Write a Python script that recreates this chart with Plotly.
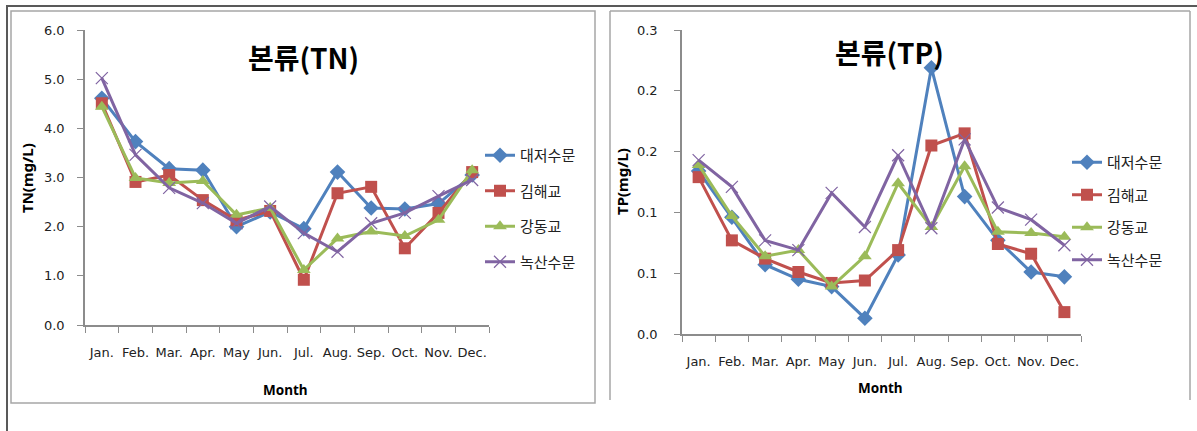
import plotly.graph_objects as go

W, H = 1197, 431

months = ["Jan.", "Feb.", "Mar.", "Apr.", "May", "Jun.", "Jul.", "Aug.", "Sep.", "Oct.", "Nov.", "Dec."]
sites = ["대저수문", "김해교", "강동교", "녹산수문"]

tn_daejeo = [4.61, 3.73, 3.18, 3.15, 2.00, 2.30, 1.96, 3.11, 2.38, 2.36, 2.47, 3.05]
tn_gimhae = [4.51, 2.91, 3.05, 2.54, 2.13, 2.32, 0.92, 2.68, 2.81, 1.56, 2.28, 3.11]
tn_gangdong = [4.44, 2.99, 2.89, 2.93, 2.24, 2.38, 1.12, 1.76, 1.90, 1.81, 2.14, 3.15]
tn_noksan = [5.02, 3.46, 2.79, 2.48, 2.07, 2.41, 1.87, 1.49, 2.07, 2.28, 2.62, 2.95]

tp_daejeo = [0.134, 0.096, 0.057, 0.045, 0.039, 0.013, 0.065, 0.219, 0.113, 0.077, 0.051, 0.047]
tp_gimhae = [0.129, 0.077, 0.062, 0.051, 0.042, 0.044, 0.069, 0.155, 0.165, 0.074, 0.066, 0.018]
tp_gangdong = [0.139, 0.097, 0.064, 0.069, 0.039, 0.064, 0.124, 0.088, 0.138, 0.084, 0.083, 0.080]
tp_noksan = [0.143, 0.121, 0.077, 0.069, 0.116, 0.088, 0.147, 0.087, 0.160, 0.104, 0.094, 0.073]

tn_ticks = [0, 1, 2, 3, 4, 5, 6]
tn_ticktext = ["0.0", "1.0", "2.0", "3.0", "4.0", "5.0", "6.0"]
tp_ticks = [0, 0.05, 0.10, 0.15, 0.20, 0.25]
tp_ticktext = ["0.0", "0.1", "0.1", "0.2", "0.2", "0.3"]

colors = ["#4F81BD", "#C0504D", "#9BBB59", "#8064A2"]
symbols = ["diamond", "square", "triangle-up", "x-thin"]
msizes = [12, 12, 12, 12]

def px(x):
    return x / W

def py(y):
    return 1 - y / H

fig = go.Figure()

tn_series = [tn_daejeo, tn_gimhae, tn_gangdong, tn_noksan]
tp_series = [tp_daejeo, tp_gimhae, tp_gangdong, tp_noksan]

for i, (name, vals) in enumerate(zip(sites, tn_series)):
    mk = dict(symbol=symbols[i], size=msizes[i], color=colors[i])
    if symbols[i] == "x-thin":
        mk["line"] = dict(color=colors[i], width=1.2)
    fig.add_trace(go.Scatter(x=months, y=vals, name=name, mode="lines+markers",
                             line=dict(color=colors[i], width=3), marker=mk,
                             xaxis="x", yaxis="y", legend="legend", legendgroup=f"a{i}"))
for i, (name, vals) in enumerate(zip(sites, tp_series)):
    mk = dict(symbol=symbols[i], size=msizes[i], color=colors[i])
    if symbols[i] == "x-thin":
        mk["line"] = dict(color=colors[i], width=1.2)
    fig.add_trace(go.Scatter(x=months, y=vals, name=name, mode="lines+markers",
                             line=dict(color=colors[i], width=3), marker=mk,
                             xaxis="x2", yaxis="y2", legend="legend2", legendgroup=f"b{i}"))

tickfont = dict(family="DejaVu Sans, sans-serif", size=13, color="#222")
axcol = "#8C8C8C"

common_x = dict(type="category", categoryorder="array", categoryarray=months,
                range=[-0.5, 11.5], tickson="boundaries", ticks="outside", ticklen=6,
                tickcolor=axcol, showline=True, linecolor=axcol, linewidth=1.5,
                showgrid=False, zeroline=False, tickfont=tickfont, ticklabelstandoff=15,
                tickangle=0, automargin=False, fixedrange=True)
common_y = dict(ticks="outside", ticklen=6, tickcolor=axcol, showline=True,
                linecolor=axcol, linewidth=1.5, showgrid=False, zeroline=False,
                tickfont=tickfont, automargin=False, fixedrange=True)

legfont = dict(family="Noto Sans CJK KR, sans-serif", size=15, color="#222")

fig.update_layout(
    width=W, height=H, margin=dict(l=0, r=0, t=0, b=0, autoexpand=False),
    paper_bgcolor="white", plot_bgcolor="white", showlegend=True,
    xaxis=dict(domain=[px(85), px(489)], anchor="y", **common_x),
    yaxis=dict(domain=[py(325), py(30)], anchor="x", range=[0, 6],
               tickvals=tn_ticks, ticktext=tn_ticktext, ticklabelstandoff=10, **common_y),
    xaxis2=dict(domain=[px(682), px(1081)], anchor="y2", **common_x),
    yaxis2=dict(domain=[py(334), py(30)], anchor="x2", range=[0, 0.25],
                tickvals=tp_ticks, ticktext=tp_ticktext, ticklabelstandoff=14, **common_y),
    legend=dict(x=px(480), y=py(139), xanchor="left", yanchor="top", font=legfont,
                itemwidth=30, tracegroupgap=13, bgcolor="rgba(0,0,0,0)"),
    legend2=dict(x=px(1067), y=py(146), xanchor="left", yanchor="top", font=legfont,
                 itemwidth=30, tracegroupgap=10, bgcolor="rgba(0,0,0,0)"),
)

titlefont = dict(family="Noto Sans CJK KR, sans-serif", size=28, color="#000")
axtitlefont = dict(family="Noto Sans, sans-serif", size=13.5, color="#000")
vtitlefont = dict(family="Noto Sans, sans-serif", size=15, color="#000")
fig.add_annotation(x=px(303), y=py(57), xref="paper", yref="paper", text="<b>본류(TN)</b>",
                   showarrow=False, font=titlefont, xanchor="center", yanchor="middle")
fig.add_annotation(x=px(889), y=py(52), xref="paper", yref="paper", text="<b>본류(TP)</b>",
                   showarrow=False, font=titlefont, xanchor="center", yanchor="middle")
fig.add_annotation(x=px(27), y=py(178), xref="paper", yref="paper", text="<b>TN(mg/L)</b>",
                   showarrow=False, font=vtitlefont, textangle=-90, xanchor="center", yanchor="middle")
fig.add_annotation(x=px(622), y=py(182), xref="paper", yref="paper", text="<b>TP(mg/L)</b>",
                   showarrow=False, font=vtitlefont, textangle=-90, xanchor="center", yanchor="middle")
fig.add_annotation(x=px(285), y=py(390), xref="paper", yref="paper", text="<b>Month</b>",
                   showarrow=False, font=axtitlefont, xanchor="center", yanchor="middle")
fig.add_annotation(x=px(880), y=py(388), xref="paper", yref="paper", text="<b>Month</b>",
                   showarrow=False, font=axtitlefont, xanchor="center", yanchor="middle")

frame = "#A6A6A6"
dark = "#595959"
shapes = [
    dict(type="line", x0=px(6), x1=1, y0=py(6), y1=py(6), line=dict(color=dark, width=2)),
    dict(type="line", x0=px(7), x1=px(7), y0=py(5), y1=0, line=dict(color=dark, width=2)),
    dict(type="rect", x0=px(11), x1=px(595), y0=py(403), y1=py(11), line=dict(color=frame, width=1.5)),
    dict(type="line", x0=px(610), x1=px(1190), y0=py(11), y1=py(11), line=dict(color=frame, width=1.5)),
    dict(type="line", x0=px(610), x1=px(610), y0=py(11), y1=py(400), line=dict(color=frame, width=1.5)),
    dict(type="line", x0=px(1190), x1=px(1190), y0=py(11), y1=py(400), line=dict(color=frame, width=1.5)),
]
for s in shapes:
    s.update(xref="paper", yref="paper", layer="above")
    fig.add_shape(**s)

fig.write_html("out.html", config={"displayModeBar": False},
               post_script="document.body.style.margin='0';document.body.style.overflow='hidden';")
